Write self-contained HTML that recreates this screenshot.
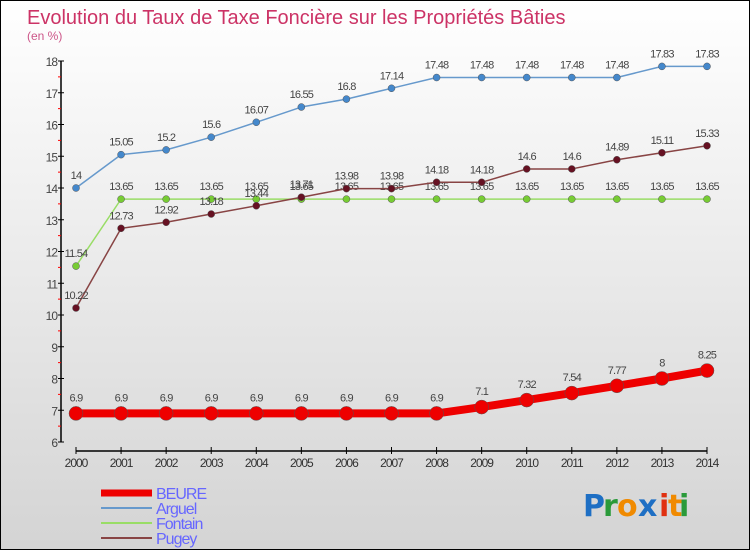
<!DOCTYPE html>
<html><head><meta charset="utf-8"><style>
body{margin:0}
#c{width:748px;height:548px;border:1px solid #000;background:linear-gradient(#ffffff,#d4d4d4);position:relative;font-family:"Liberation Sans",sans-serif}
</style></head><body>
<div id="c">
<svg id="s" width="748" height="548" xmlns="http://www.w3.org/2000/svg">
<text x="26" y="23" font-size="20" fill="#cc3366">Evolution du Taux de Taxe Foncière sur les Propriétés Bâties</text>
<text x="26" y="39" font-size="12" fill="#cc5588">(en %)</text>
<g id="g"></g>
<g font-size="30" font-family="DejaVu Sans, sans-serif" font-weight="bold">
<text x="582" y="515" fill="#1e6fc4">P</text><text x="602" y="515" fill="#2a9a3a">r</text><text x="616" y="515" fill="#f08a00">o</text><text x="637" y="515" fill="#1e6fc4">x</text><text x="658" y="515" fill="#e03010">i</text><text x="667" y="515" fill="#f08a00">t</text><text x="678" y="515" fill="#2a9a3a">i</text>
</g>
</svg>
</div>
<script>
const years=[2000,2001,2002,2003,2004,2005,2006,2007,2008,2009,2010,2011,2012,2013,2014];
const yTicks=[6,7,8,9,10,11,12,13,14,15,16,17,18];
const beure=[6.9,6.9,6.9,6.9,6.9,6.9,6.9,6.9,6.9,7.1,7.32,7.54,7.77,8,8.25];
const arguel=[14,15.05,15.2,15.6,16.07,16.55,16.8,17.14,17.48,17.48,17.48,17.48,17.48,17.83,17.83];
const fontain=[11.54,13.65,13.65,13.65,13.65,13.65,13.65,13.65,13.65,13.65,13.65,13.65,13.65,13.65,13.65];
const pugey=[10.22,12.73,12.92,13.18,13.44,13.71,13.98,13.98,14.18,14.18,14.6,14.6,14.89,15.11,15.33];
const NS="http://www.w3.org/2000/svg";
const g=document.getElementById('g');
function X(i){return 75+i*(631/(years.length-1));}
function Y(v){return 441-(v-6)*(381/12);}
function mk(t,a,p){const e=document.createElementNS(NS,t);for(const k in a)e.setAttribute(k,a[k]);(p||g).appendChild(e);return e;}
// axes
let ya=mk('line',{x1:60,y1:Y(18),x2:60,y2:Y(6),stroke:'#000','stroke-width':1.5});


yTicks.forEach(v=>{
 mk('line',{x1:57,y1:Y(v),x2:63,y2:Y(v),stroke:'#000'});
 if(v<18)mk('line',{x1:57,y1:Y(v+0.5),x2:60,y2:Y(v+0.5),stroke:'#f00'});
 let t=mk('text',{x:56,y:Y(v)+5,'text-anchor':'end','font-size':12,fill:'#444','letter-spacing':'-1'});t.textContent=v;
 
 
});
let xa=mk('line',{x1:X(0),y1:450,x2:X(14),y2:450,stroke:'#000','stroke-width':1.5});


years.forEach((y,i)=>{
 mk('line',{x1:X(i),y1:446,x2:X(i),y2:453,stroke:'#000'});
 let t=mk('text',{x:X(i),y:466,'text-anchor':'middle','font-size':12,fill:'#333','letter-spacing':'-1'});t.textContent=y;
 
 
});
function series(vals,name,col,dot,w,r,labCol){
 const sg=mk('g',{});
 
 
 mk('polyline',{points:vals.map((v,i)=>X(i)+','+Y(v)).join(' '),fill:'none',stroke:col,'stroke-width':w,'stroke-linejoin':'round'},sg);
 vals.forEach((v,i)=>{
  let c=mk('circle',{cx:X(i),cy:Y(v),r:r,fill:dot,stroke:'#555','stroke-width':0.5},sg);
  
  
  let t=mk('text',{x:X(i),y:Y(v)-(w>3?12:9),'text-anchor':'middle','font-size':11,fill:'#444','letter-spacing':'-0.8'},sg);t.textContent=v;
 });
}
series(fontain,'fontain','#99dd66','#77cc33',1.5,3.5);
series(pugey,'pugey','#884444','#661122',1.5,3.5);
series(arguel,'arguel','#6699cc','#4488cc',1.5,3.5);
series(beure,'beure','#ee0000','#ee0000',8,7);
// legend
const leg=[['BEURE','#ee0000',7],['Arguel','#6699cc',2],['Fontain','#99dd66',2],['Pugey','#884444',2]];
leg.forEach((l,i)=>{
 const lg=mk('g',{});
 
 
 let y=492+i*15;
 mk('line',{x1:100,y1:y,x2:151,y2:y,stroke:l[1],'stroke-width':l[2]},lg);
 let t=mk('text',{x:155,y:y+6,'font-size':16,fill:'#6666ff','letter-spacing':'-1'},lg);t.textContent=l[0];
});
</script>
</body></html>
